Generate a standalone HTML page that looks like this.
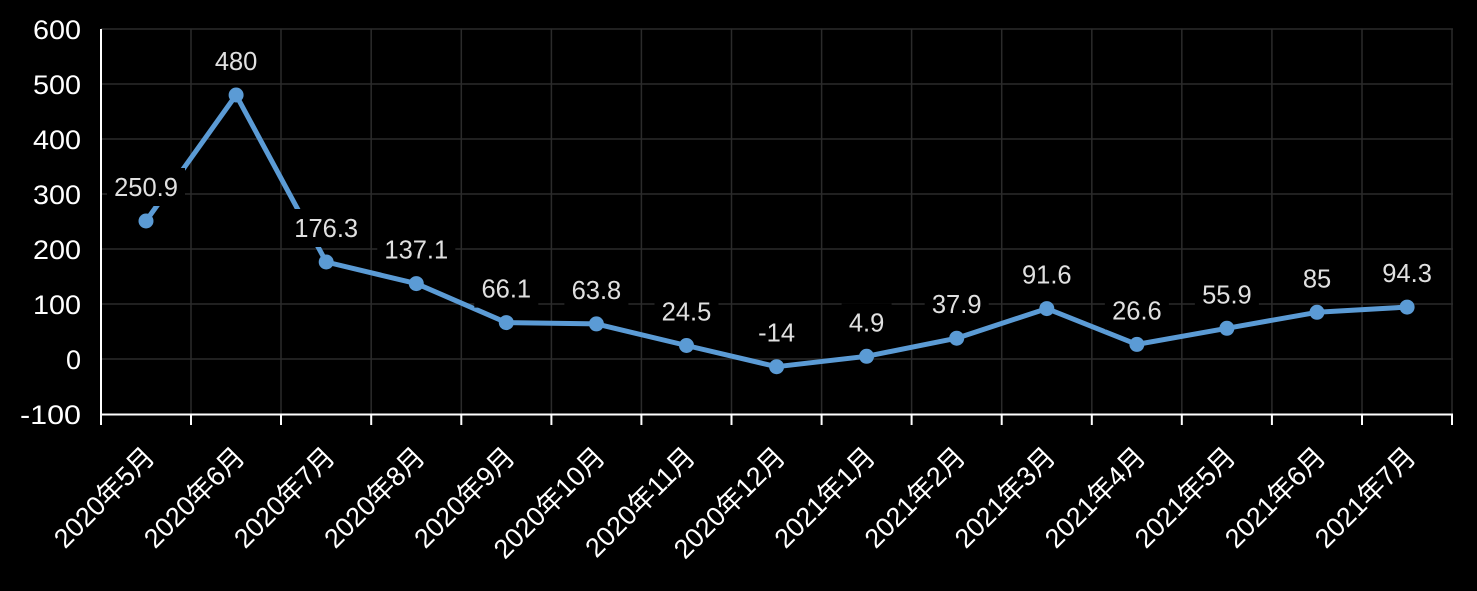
<!DOCTYPE html>
<html>
<head>
<meta charset="utf-8">
<style>
html,body{margin:0;padding:0;background:#000;}
svg{display:block;}
text{font-family:"Liberation Sans","Noto Sans CJK SC",sans-serif;}
</style>
</head>
<body>
<svg width="1477" height="591" viewBox="0 0 1477 591" xmlns="http://www.w3.org/2000/svg">
<rect width="1477" height="591" fill="#000"/>
<!-- horizontal gridlines -->
<g stroke="#2b2b2b" stroke-width="1.5">
<line x1="101" y1="29" x2="1453" y2="29"/>
<line x1="101" y1="84" x2="1453" y2="84"/>
<line x1="101" y1="139" x2="1453" y2="139"/>
<line x1="101" y1="194" x2="1453" y2="194"/>
<line x1="101" y1="249" x2="1453" y2="249"/>
<line x1="101" y1="304" x2="1453" y2="304"/>
<line x1="101" y1="359" x2="1453" y2="359"/>
<!-- vertical gridlines -->
<line x1="191" y1="29" x2="191" y2="414"/>
<line x1="281" y1="29" x2="281" y2="414"/>
<line x1="371.2" y1="29" x2="371.2" y2="414"/>
<line x1="461.3" y1="29" x2="461.3" y2="414"/>
<line x1="551.4" y1="29" x2="551.4" y2="414"/>
<line x1="641.4" y1="29" x2="641.4" y2="414"/>
<line x1="731.5" y1="29" x2="731.5" y2="414"/>
<line x1="821.6" y1="29" x2="821.6" y2="414"/>
<line x1="911.6" y1="29" x2="911.6" y2="414"/>
<line x1="1001.7" y1="29" x2="1001.7" y2="414"/>
<line x1="1091.8" y1="29" x2="1091.8" y2="414"/>
<line x1="1181.8" y1="29" x2="1181.8" y2="414"/>
<line x1="1271.9" y1="29" x2="1271.9" y2="414"/>
<line x1="1362" y1="29" x2="1362" y2="414"/>
<line x1="1452" y1="29" x2="1452" y2="414"/>
</g>
<!-- axes -->
<g stroke="#fff" stroke-width="2">
<line x1="101" y1="29" x2="101" y2="425"/>
<line x1="100" y1="414.5" x2="1453" y2="414.5"/>
<line x1="191" y1="414" x2="191" y2="425"/>
<line x1="281" y1="414" x2="281" y2="425"/>
<line x1="371.2" y1="414" x2="371.2" y2="425"/>
<line x1="461.3" y1="414" x2="461.3" y2="425"/>
<line x1="551.4" y1="414" x2="551.4" y2="425"/>
<line x1="641.4" y1="414" x2="641.4" y2="425"/>
<line x1="731.5" y1="414" x2="731.5" y2="425"/>
<line x1="821.6" y1="414" x2="821.6" y2="425"/>
<line x1="911.6" y1="414" x2="911.6" y2="425"/>
<line x1="1001.7" y1="414" x2="1001.7" y2="425"/>
<line x1="1091.8" y1="414" x2="1091.8" y2="425"/>
<line x1="1181.8" y1="414" x2="1181.8" y2="425"/>
<line x1="1271.9" y1="414" x2="1271.9" y2="425"/>
<line x1="1362" y1="414" x2="1362" y2="425"/>
<line x1="1452" y1="414" x2="1452" y2="425"/>
</g>
<!-- y labels -->
<g fill="#fff" font-size="27" text-anchor="end">
<text x="81" y="39" textLength="48" lengthAdjust="spacingAndGlyphs">600</text>
<text x="81" y="94" textLength="48" lengthAdjust="spacingAndGlyphs">500</text>
<text x="81" y="149" textLength="48" lengthAdjust="spacingAndGlyphs">400</text>
<text x="81" y="204" textLength="48" lengthAdjust="spacingAndGlyphs">300</text>
<text x="81" y="259" textLength="48" lengthAdjust="spacingAndGlyphs">200</text>
<text x="81" y="314" textLength="48" lengthAdjust="spacingAndGlyphs">100</text>
<text x="81" y="369">0</text>
<text x="81" y="424" textLength="61" lengthAdjust="spacingAndGlyphs">-100</text>
</g>
<!-- series line -->
<polyline fill="none" stroke="#5b9bd5" stroke-width="5" stroke-linejoin="round" stroke-linecap="round"
points="146,221 236.1,95 326.2,262 416.3,283.6 506.3,322.6 596.4,323.9 686.5,345.5 776.6,366.7 866.6,356.3 956.7,338.2 1046.8,308.6 1136.9,344.4 1226.9,328.3 1317,312.3 1407.1,307.1"/>
<g fill="#5b9bd5">
<circle cx="146" cy="221" r="7.5"/>
<circle cx="236.1" cy="95" r="7.5"/>
<circle cx="326.2" cy="262" r="7.5"/>
<circle cx="416.3" cy="283.6" r="7.5"/>
<circle cx="506.3" cy="322.6" r="7.5"/>
<circle cx="596.4" cy="323.9" r="7.5"/>
<circle cx="686.5" cy="345.5" r="7.5"/>
<circle cx="776.6" cy="366.7" r="7.5"/>
<circle cx="866.6" cy="356.3" r="7.5"/>
<circle cx="956.7" cy="338.2" r="7.5"/>
<circle cx="1046.8" cy="308.6" r="7.5"/>
<circle cx="1136.9" cy="344.4" r="7.5"/>
<circle cx="1226.9" cy="328.3" r="7.5"/>
<circle cx="1317" cy="312.3" r="7.5"/>
<circle cx="1407.1" cy="307.1" r="7.5"/>
</g>
<!-- data label backgrounds -->
<g fill="#000">
<rect x="107" y="168" width="78" height="38"/>
<rect x="207.1" y="42" width="58" height="38"/>
<rect x="287.2" y="209" width="78" height="38"/>
<rect x="377.3" y="230.6" width="78" height="38"/>
<rect x="474.3" y="269.6" width="64" height="38"/>
<rect x="564.4" y="270.9" width="64" height="38"/>
<rect x="654.5" y="292.5" width="64" height="38"/>
<rect x="750.6" y="313.7" width="52" height="38"/>
<rect x="841.6" y="303.3" width="50" height="38"/>
<rect x="924.7" y="285.2" width="64" height="38"/>
<rect x="1014.8" y="255.6" width="64" height="38"/>
<rect x="1104.9" y="291.4" width="64" height="38"/>
<rect x="1194.9" y="275.3" width="64" height="38"/>
<rect x="1295" y="259.3" width="44" height="38"/>
<rect x="1375.1" y="254.1" width="64" height="38"/>
</g>
<!-- data labels -->
<g fill="#e0e0e0" font-size="25.5" text-anchor="middle">
<text x="146" y="196">250.9</text>
<text x="236.1" y="70">480</text>
<text x="326.2" y="237">176.3</text>
<text x="416.3" y="258.6">137.1</text>
<text x="506.3" y="297.6">66.1</text>
<text x="596.4" y="298.9">63.8</text>
<text x="686.5" y="320.5">24.5</text>
<text x="776.6" y="341.7">-14</text>
<text x="866.6" y="331.3">4.9</text>
<text x="956.7" y="313.2">37.9</text>
<text x="1046.8" y="283.6">91.6</text>
<text x="1136.9" y="319.4">26.6</text>
<text x="1226.9" y="303.3">55.9</text>
<text x="1317" y="287.3">85</text>
<text x="1407.1" y="282.1">94.3</text>
</g>
<!-- x labels -->
<g fill="#fff" font-size="27" text-anchor="end" dominant-baseline="central">
<text x="150" y="452" transform="rotate(-45 150 452)">2020年5月</text>
<text x="240.1" y="452" transform="rotate(-45 240.1 452)">2020年6月</text>
<text x="330.2" y="452" transform="rotate(-45 330.2 452)">2020年7月</text>
<text x="420.3" y="452" transform="rotate(-45 420.3 452)">2020年8月</text>
<text x="510.3" y="452" transform="rotate(-45 510.3 452)">2020年9月</text>
<text x="600.4" y="452" transform="rotate(-45 600.4 452)">2020年10月</text>
<text x="690.5" y="452" transform="rotate(-45 690.5 452)">2020年11月</text>
<text x="780.6" y="452" transform="rotate(-45 780.6 452)">2020年12月</text>
<text x="870.6" y="452" transform="rotate(-45 870.6 452)">2021年1月</text>
<text x="960.7" y="452" transform="rotate(-45 960.7 452)">2021年2月</text>
<text x="1050.8" y="452" transform="rotate(-45 1050.8 452)">2021年3月</text>
<text x="1140.9" y="452" transform="rotate(-45 1140.9 452)">2021年4月</text>
<text x="1230.9" y="452" transform="rotate(-45 1230.9 452)">2021年5月</text>
<text x="1321" y="452" transform="rotate(-45 1321 452)">2021年6月</text>
<text x="1411.1" y="452" transform="rotate(-45 1411.1 452)">2021年7月</text>
</g>
</svg>
</body>
</html>
